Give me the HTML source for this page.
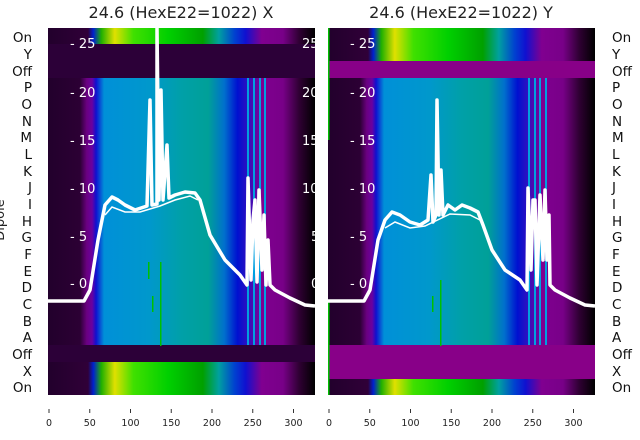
<!DOCTYPE html>
<html><head><style>
body{margin:0;background:#fff;}
svg{display:block;font-family:"DejaVu Sans","Liberation Sans",sans-serif;}
</style></head><body>
<svg width="640" height="440" viewBox="0 0 640 440" xmlns="http://www.w3.org/2000/svg">
<defs>
<linearGradient id="hm" x1="0" x2="1" y1="0" y2="0">
<stop offset="0" stop-color="#22002c"/>
<stop offset="0.12" stop-color="#2c0034"/>
<stop offset="0.145" stop-color="#6a0080"/>
<stop offset="0.165" stop-color="#6a00a0"/>
<stop offset="0.18" stop-color="#1010d0"/>
<stop offset="0.21" stop-color="#0090d8"/>
<stop offset="0.38" stop-color="#0098cc"/>
<stop offset="0.5" stop-color="#00a0a8"/>
<stop offset="0.6" stop-color="#00a098"/>
<stop offset="0.66" stop-color="#0070cc"/>
<stop offset="0.71" stop-color="#0010d0"/>
<stop offset="0.75" stop-color="#3010c0"/>
<stop offset="0.8" stop-color="#800090"/>
<stop offset="0.88" stop-color="#780088"/>
<stop offset="0.94" stop-color="#300034"/>
<stop offset="1" stop-color="#000"/>
</linearGradient>
<linearGradient id="gr" x1="0" x2="1" y1="0" y2="0">
<stop offset="0" stop-color="#22002c"/>
<stop offset="0.15" stop-color="#300038"/>
<stop offset="0.17" stop-color="#0020d0"/>
<stop offset="0.2" stop-color="#20b000"/>
<stop offset="0.25" stop-color="#e0e000"/>
<stop offset="0.32" stop-color="#40e000"/>
<stop offset="0.45" stop-color="#00d000"/>
<stop offset="0.58" stop-color="#00a000"/>
<stop offset="0.64" stop-color="#00a0a0"/>
<stop offset="0.7" stop-color="#0040d0"/>
<stop offset="0.74" stop-color="#1010d0"/>
<stop offset="0.8" stop-color="#800090"/>
<stop offset="0.88" stop-color="#780088"/>
<stop offset="0.94" stop-color="#300034"/>
<stop offset="1" stop-color="#000"/>
</linearGradient>
</defs>
<text x="181" y="18" font-size="16" text-anchor="middle" fill="#222">24.6 (HexE22=1022) X</text>
<text x="461" y="18" font-size="16" text-anchor="middle" fill="#222">24.6 (HexE22=1022) Y</text>
<text transform="translate(4,220) rotate(-90)" font-size="13" text-anchor="middle" fill="#222">Dipole</text>

<!-- left panel -->
<g>
<rect x="48" y="28" width="267" height="367" fill="url(#hm)"/>
<rect x="48" y="28" width="267" height="16" fill="url(#gr)"/>
<rect x="48" y="44" width="267" height="34" fill="#2c0038"/>
<rect x="48" y="345" width="267" height="17" fill="#2c0038"/>
<rect x="48" y="362" width="267" height="33" fill="url(#gr)"/>
<g fill="#00a0e0"><rect x="247" y="78" width="2" height="267"/><rect x="253" y="78" width="2" height="267"/><rect x="259" y="78" width="2" height="267"/><rect x="264" y="78" width="2" height="267"/></g>
<g fill="#00c000"><rect x="148" y="262" width="1.5" height="17"/><rect x="160" y="262" width="1.5" height="84"/><rect x="152" y="296" width="1.5" height="16"/></g>
<polyline fill="none" stroke="#fff" stroke-width="3.5" stroke-linejoin="round" points="48,301 84,301 90,290 98,240 105,205 112,197 118,200 125,205 135,210 147,206 150,100 152,205 157,204 157,28 159,200 161,90 163,200 167,145 169,198 175,195 185,192 195,193 200,200 210,235 225,260 240,275 247,285 248,178 251,280 253,220 255,200 257,282 259,190 262,270 264,215 266,285 268,240 270,285 275,290 290,298 305,305 315,306"/>
<polyline fill="none" stroke="#fff" stroke-width="1.5" points="105,215 112,207 125,212 140,212 160,206 175,200 190,196 198,200"/>
<g fill="#fff" font-size="13">
<text x="70" y="48">- 25</text><text x="70" y="97">- 20</text><text x="70" y="145">- 15</text><text x="70" y="193">- 10</text><text x="70" y="241">- 5</text><text x="70" y="288">- 0</text>
<text x="302" y="48">25</text><text x="302" y="97">20</text><text x="302" y="145">15</text><text x="302" y="193">10</text><text x="311" y="241">5</text><text x="311" y="288">0</text>
</g>
</g>
<rect x="315" y="28" width="13" height="368" fill="#fff"/>

<!-- right panel -->
<g>
<rect x="328" y="28" width="267" height="367" fill="url(#hm)"/>
<rect x="328" y="28" width="267" height="33" fill="url(#gr)"/>
<rect x="328" y="61" width="267" height="17" fill="#880088"/>
<rect x="328" y="345" width="267" height="34" fill="#880088"/>
<rect x="328" y="379" width="267" height="16" fill="url(#gr)"/>
<rect x="328" y="28" width="1.5" height="112" fill="#00c000"/>
<rect x="328" y="300" width="1.5" height="95" fill="#00c000"/>
<g fill="#00a0e0"><rect x="528" y="78" width="2" height="267"/><rect x="534" y="78" width="2" height="267"/><rect x="539" y="78" width="2" height="267"/><rect x="545" y="78" width="2" height="267"/></g>
<g fill="#00c000"><rect x="440" y="280" width="1.5" height="66"/><rect x="432" y="296" width="1.5" height="16"/></g>
<polyline fill="none" stroke="#fff" stroke-width="3.5" stroke-linejoin="round" points="328,301 364,301 370,290 378,240 385,220 392,212 400,215 410,222 420,225 428,220 431,175 433,222 436,215 437,100 439,215 441,170 443,215 448,205 455,210 462,205 470,208 478,212 483,225 492,250 505,270 520,280 527,290 528,188 531,270 533,200 535,200 537,285 540,195 543,260 545,190 547,260 549,215 550,285 555,290 570,298 585,305 595,306"/>
<polyline fill="none" stroke="#fff" stroke-width="1.5" points="385,228 395,222 410,228 425,226 450,214 470,215 480,220"/>
<g fill="#fff" font-size="13">
<text x="350" y="48">- 25</text><text x="350" y="97">- 20</text><text x="350" y="145">- 15</text><text x="350" y="193">- 10</text><text x="350" y="241">- 5</text><text x="350" y="288">- 0</text>
</g>
</g>

<!-- row labels -->
<g fill="#111" font-size="13.5">
<g text-anchor="end">
<text x="32" y="42">On</text><text x="32" y="59">Y</text><text x="32" y="76">Off</text><text x="32" y="92">P</text><text x="32" y="109">O</text><text x="32" y="126">N</text><text x="32" y="142">M</text><text x="32" y="159">L</text><text x="32" y="176">K</text><text x="32" y="192">J</text><text x="32" y="209">I</text><text x="32" y="226">H</text><text x="32" y="242">G</text><text x="32" y="259">F</text><text x="32" y="276">E</text><text x="32" y="292">D</text><text x="32" y="309">C</text><text x="32" y="326">B</text><text x="32" y="342">A</text><text x="32" y="359">Off</text><text x="32" y="376">X</text><text x="32" y="392">On</text>
</g>
<g>
<text x="612" y="42">On</text><text x="612" y="59">Y</text><text x="612" y="76">Off</text><text x="612" y="92">P</text><text x="612" y="109">O</text><text x="612" y="126">N</text><text x="612" y="142">M</text><text x="612" y="159">L</text><text x="612" y="176">K</text><text x="612" y="192">J</text><text x="612" y="209">I</text><text x="612" y="226">H</text><text x="612" y="242">G</text><text x="612" y="259">F</text><text x="612" y="276">E</text><text x="612" y="292">D</text><text x="612" y="309">C</text><text x="612" y="326">B</text><text x="612" y="342">A</text><text x="612" y="359">Off</text><text x="612" y="376">X</text><text x="612" y="392">On</text>
</g>
</g>

<!-- x ticks -->
<g stroke="#333" stroke-width="1">
<path d="M49 409v4M89.75 409v4M130.5 409v4M171.25 409v4M212 409v4M252.75 409v4M293.5 409v4"/>
<path d="M329 409v4M369.75 409v4M410.5 409v4M451.25 409v4M492 409v4M532.75 409v4M573.5 409v4"/>
</g>
<g fill="#222" font-size="9.5" text-anchor="middle">
<text x="49" y="426">0</text><text x="89.75" y="426">50</text><text x="130.5" y="426">100</text><text x="171.25" y="426">150</text><text x="212" y="426">200</text><text x="252.75" y="426">250</text><text x="293.5" y="426">300</text>
<text x="329" y="426">0</text><text x="369.75" y="426">50</text><text x="410.5" y="426">100</text><text x="451.25" y="426">150</text><text x="492" y="426">200</text><text x="532.75" y="426">250</text><text x="573.5" y="426">300</text>
</g>
</svg>
</body></html>
